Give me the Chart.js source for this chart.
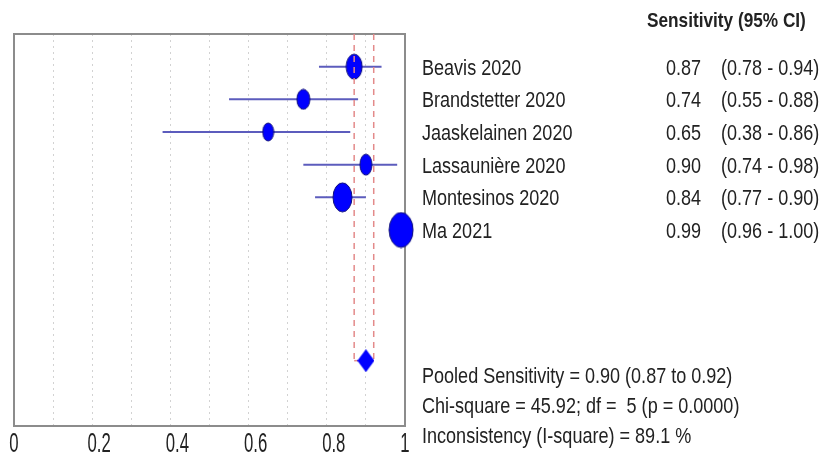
<!DOCTYPE html>
<html>
<head>
<meta charset="utf-8">
<script src="https://cdn.jsdelivr.net/npm/chart.js@4.4.1/dist/chart.umd.min.js"></script>
<style>
  html, body { margin: 0; padding: 0; background: #fff; }
  #wrap { width: 820px; height: 459px; }
</style>
</head>
<body>
<div id="wrap"><canvas id="forest"></canvas></div>
<script>
const studies = ['Beavis 2020', 'Brandstetter 2020', 'Jaaskelainen 2020', 'Lassaunière 2020', 'Montesinos 2020', 'Ma 2021'];
const sensitivity = [0.87, 0.74, 0.65, 0.90, 0.84, 0.99];
const ciLower = [0.78, 0.55, 0.38, 0.74, 0.77, 0.96];
const ciUpper = [0.94, 0.88, 0.86, 0.98, 0.90, 1.00];
const pooledSens = 0.90;
const pooledLower = 0.87;
const pooledUpper = 0.92;
const chiSquare = '45.92';
const df = 5;
const pValue = '0.0000';
const iSquare = '89.1';
const xTickLabels = ['0', '0.2', '0.4', '0.6', '0.8', '1'];

const pooledRow = 10;
const rowCount = 12;

// no narrow face installed, so text is squeezed by hand
const FONT = "'Liberation Sans', Arial, sans-serif";
const NARROW = 0.82;
const TEXT = '#222';
// marker sizes (w, h) as seen in the picture, bigger = more weight
const markerSizes = [[16, 25], [13, 20], [11, 18], [12, 21], [19, 29], [24, 35]];

function ellipse(w, h) {
  const c = document.createElement('canvas');
  c.width = w + 2; c.height = h + 2;
  const g = c.getContext('2d');
  g.beginPath();
  g.ellipse(c.width / 2, c.height / 2, w / 2, h / 2, 0, 0, Math.PI * 2);
  g.fillStyle = '#0000ff';
  g.fill();
  g.lineWidth = 1;
  g.strokeStyle = '#10107a';
  g.stroke();
  return c;
}

function diamond(w, h) {
  const c = document.createElement('canvas');
  c.width = w; c.height = h;
  const g = c.getContext('2d');
  g.beginPath();
  g.moveTo(w / 2, 0); g.lineTo(w, h / 2); g.lineTo(w / 2, h); g.lineTo(0, h / 2);
  g.closePath();
  g.fillStyle = '#0000ff';
  g.fill();
  return c;
}

function narrowText(ctx, text, x, y, sx) {
  ctx.save();
  ctx.translate(x, y);
  ctx.scale(sx, 1);
  ctx.fillText(text, 0, 0);
  ctx.restore();
}

const ciSets = studies.map((s, i) => ({
  data: [{ x: ciLower[i], y: i + 1 }, { x: ciUpper[i], y: i + 1 }],
  showLine: true,
  borderColor: '#5c5cbd',
  borderWidth: 2,
  pointRadius: 0,
  order: 3
}));

const pooledLines = [pooledLower, pooledUpper].map(v => ({
  data: [{ x: v, y: 0 }, { x: v, y: pooledRow }],
  showLine: true,
  borderColor: '#e38a8a',
  borderWidth: 1.5,
  borderDash: [6, 5],
  pointRadius: 0,
  order: 1
}));

const frame = {
  id: 'frame',
  beforeDatasetsDraw(chart) {
    const { ctx, chartArea: a } = chart;
    ctx.save();
    ctx.strokeStyle = '#8c8c8c';
    ctx.lineWidth = 2;
    ctx.strokeRect(a.left, a.top, a.right - a.left, a.bottom - a.top);
    ctx.restore();
  }
};

const textPanel = {
  id: 'textPanel',
  afterDraw(chart) {
    const { ctx } = chart;
    const x = chart.scales.x;
    const y = chart.scales.y;
    ctx.save();
    ctx.fillStyle = TEXT;

    // x tick labels, first digit sits on the tick like in the original
    ctx.textBaseline = 'alphabetic';
    ctx.font = `27px ${FONT}`;
    const tickSx = 0.62;
    const half = ctx.measureText('0').width * tickSx / 2;
    x.ticks.forEach(t => {
      if (t.label) narrowText(ctx, t.label, x.getPixelForValue(t.value) - half, 452, tickSx);
    });

    ctx.textBaseline = 'middle';
    ctx.font = `bold 21px ${FONT}`;
    narrowText(ctx, 'Sensitivity (95% CI)', 647, 21, NARROW);
    ctx.font = `22px ${FONT}`;
    studies.forEach((name, i) => {
      const py = y.getPixelForValue(i + 1) + 2;
      narrowText(ctx, name, 422, py, NARROW);
      narrowText(ctx, sensitivity[i].toFixed(2), 666, py, NARROW);
      narrowText(ctx, `(${ciLower[i].toFixed(2)} - ${ciUpper[i].toFixed(2)})`, 721, py, NARROW);
    });
    const stats = [
      `Pooled Sensitivity = ${pooledSens.toFixed(2)} (${pooledLower.toFixed(2)} to ${pooledUpper.toFixed(2)})`,
      `Chi-square = ${chiSquare}; df =  ${df} (p = ${pValue})`,
      `Inconsistency (I-square) = ${iSquare} %`
    ];
    const base = y.getPixelForValue(pooledRow);
    stats.forEach((t, k) => narrowText(ctx, t, 422, base + 16 + k * 30, NARROW));
    ctx.restore();
  }
};

new Chart(document.getElementById('forest'), {
  type: 'scatter',
  data: {
    datasets: [
      {
        data: [{ x: pooledSens, y: pooledRow }],
        pointStyle: diamond(17, 23),
        pointRadius: 6,
        clip: false,
        order: 0
      },
      {
        data: [{ x: pooledLower, y: pooledRow }, { x: pooledUpper, y: pooledRow }],
        showLine: true,
        borderColor: '#e38a8a',
        borderWidth: 1.5,
        pointRadius: 0,
        order: 1
      },
      ...pooledLines,
      {
        data: sensitivity.map((v, i) => ({ x: v, y: i + 1 })),
        pointStyle: markerSizes.map(([w, h]) => ellipse(w, h)),
        pointRadius: 6,
        clip: false,
        order: 2
      },
      ...ciSets
    ]
  },
  options: {
    responsive: true,
    maintainAspectRatio: false,
    animation: false,
    layout: { padding: { left: 14, top: 34, right: 415, bottom: 0 } },
    plugins: { legend: { display: false }, tooltip: { enabled: false } },
    scales: {
      x: {
        type: 'linear',
        min: 0,
        max: 1,
        afterFit: s => { s.height = 33; },
        ticks: {
          display: false,
          stepSize: 0.1,
          autoSkip: false,
          callback: (v, i) => (i % 2 ? '' : xTickLabels[i / 2])
        },
        grid: { color: '#d2d2d2', drawTicks: false, lineWidth: 1 },
        border: { display: false, dash: [2, 4] }
      },
      y: {
        type: 'linear',
        min: 0,
        max: rowCount,
        reverse: true,
        display: false
      }
    }
  },
  plugins: [frame, textPanel]
});
</script>
</body>
</html>
